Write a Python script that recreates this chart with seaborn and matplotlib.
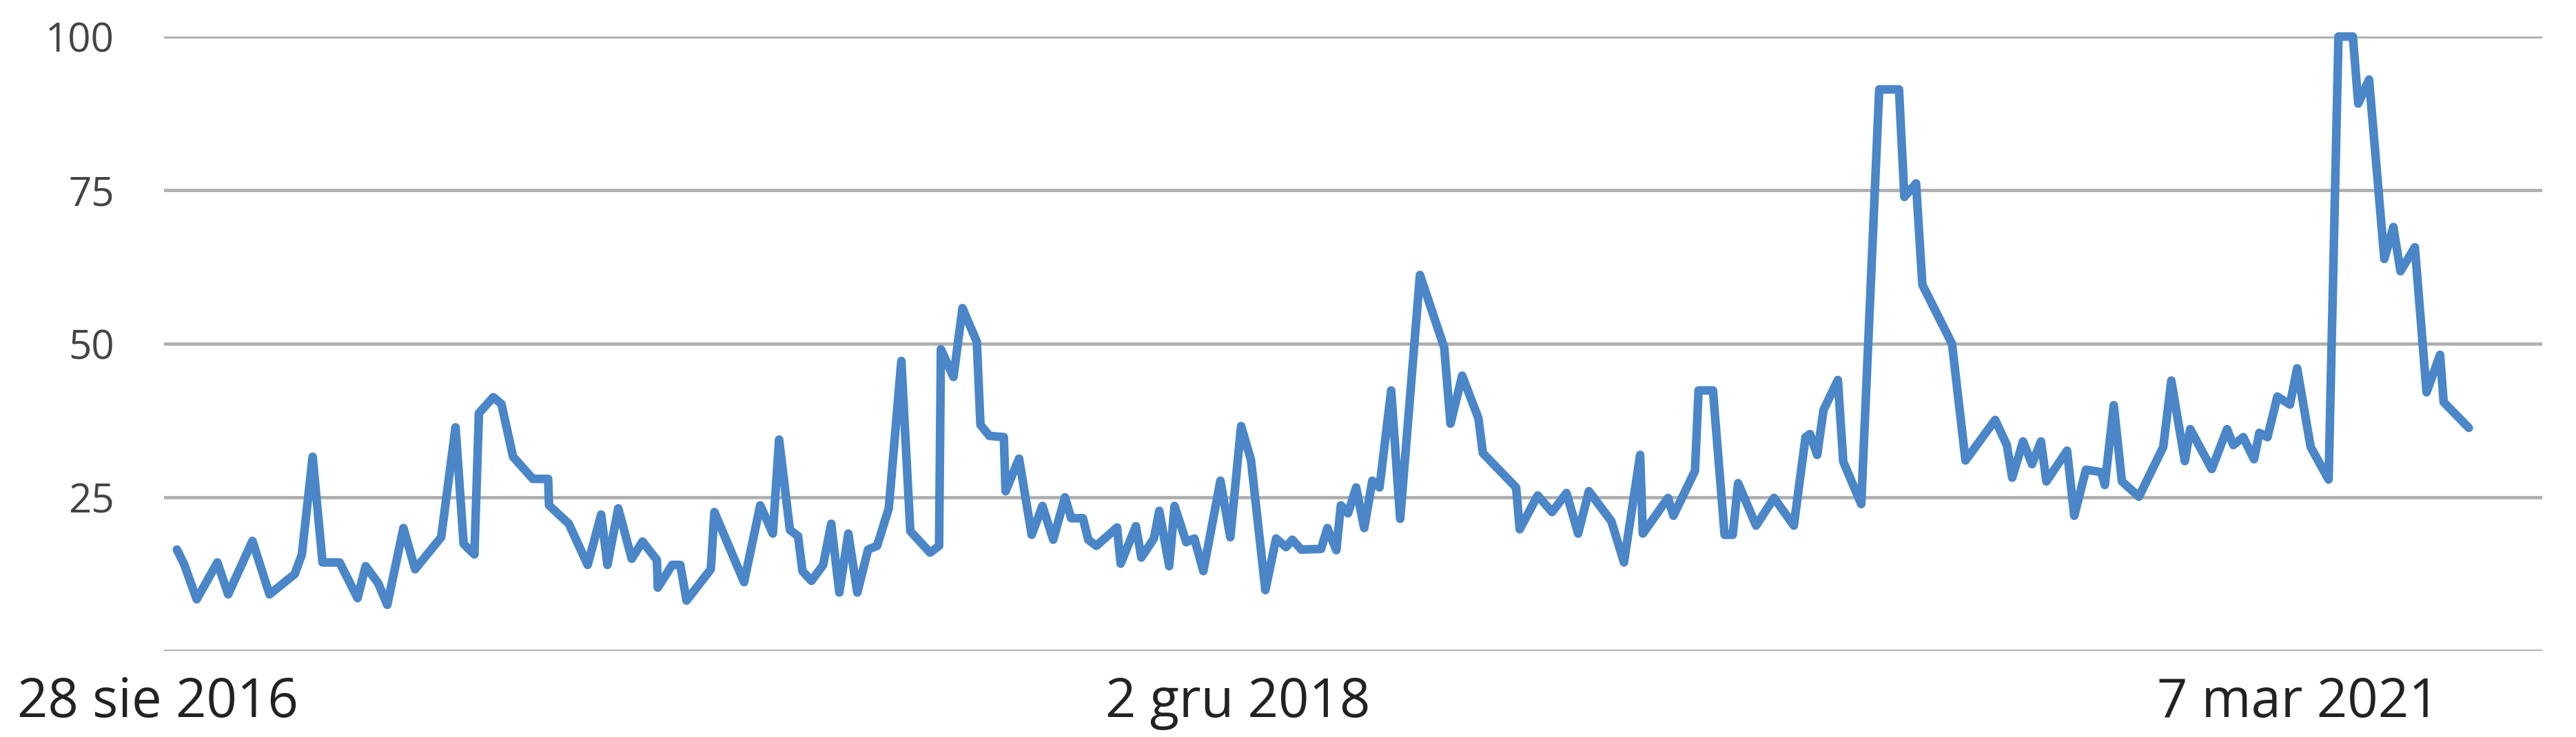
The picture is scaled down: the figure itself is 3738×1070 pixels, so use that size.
import pandas as pd
import matplotlib
matplotlib.use('Agg')
import matplotlib.pyplot as plt
import matplotlib.transforms as mtransforms
import seaborn as sns

# weeks since 28 Aug 2016 and interest values (0-100)
weeks = [0, 0.8, 2.2, 4.5, 5.7, 8.4, 10.3, 13.1, 13.9, 15.1,
         16.2, 18.1, 20.1, 21.0, 22.4, 23.4, 25.2, 26.5, 29.4, 31.0,
         31.9, 33.1, 33.6, 35.2, 36.1, 37.4, 39.6, 41.3, 41.4, 43.6,
         45.7, 47.2, 47.9, 49.1, 50.6, 51.8, 53.4, 53.5, 55.1, 56.0,
         56.7, 59.4, 59.8, 63.1, 64.9, 66.3, 67.0, 68.2, 69.1, 69.6,
         70.6, 71.9, 72.8, 73.7, 74.7, 75.7, 76.9, 77.9, 79.2, 80.6,
         81.6, 83.8, 84.8, 85.0, 86.4, 87.4, 89.0, 89.4, 90.4, 92.0,
         92.2, 93.7, 95.1, 96.3, 97.5, 98.8, 99.5, 100.8, 101.4, 102.3,
         104.6, 105.0, 106.7, 107.3, 108.7, 109.3, 110.4, 111.0, 112.3, 113.2,
         114.2, 116.1, 117.2, 118.4, 119.5, 121.1, 122.3, 123.4, 124.1, 125.1,
         127.3, 128.0, 129.0, 129.5, 130.3, 131.2, 132.1, 133.0, 133.8, 135.1,
         136.1, 138.3, 141.0, 141.7, 143.0, 144.8, 145.3, 149.0, 149.4, 151.4,
         153.0, 154.6, 155.9, 157.1, 159.6, 161.0, 162.8, 163.1, 165.9, 166.5,
         168.9, 169.3, 170.9, 172.2, 173.1, 173.7, 175.7, 177.7, 179.9, 181.2,
         181.7, 182.5, 183.2, 184.8, 185.4, 187.4, 189.4, 191.6, 192.2, 193.5,
         194.2, 197.5, 199.0, 202.3, 203.6, 204.2, 205.4, 206.4, 207.4, 208.0,
         210.3, 211.1, 212.4, 214.1, 214.5, 215.5, 216.4, 218.3, 221.0, 221.9,
         223.4, 224.0, 226.4, 228.1, 228.8, 229.9, 231.1, 231.7, 232.6, 233.7,
         235.1, 235.9, 237.4, 239.4, 240.5, 242.1, 242.7, 243.9, 245.6, 246.6,
         247.4, 249.0, 250.3, 251.8, 252.2, 255.0]

values = [16.5, 14.1, 8.4, 14.4, 9.2, 17.9, 9.2, 12.5, 15.7, 31.6,
          14.4, 14.4, 8.6, 13.8, 11.0, 7.5, 20.0, 13.3, 18.5, 36.4,
          17.4, 15.7, 38.7, 41.3, 40.2, 31.6, 28.0, 28.0, 23.7, 20.7,
          14.0, 22.2, 14.0, 23.2, 15.0, 17.8, 14.8, 10.3, 14.0, 14.0,
          8.2, 13.3, 22.6, 11.2, 23.7, 19.1, 34.4, 19.7, 18.7, 13.0,
          11.4, 14.0, 20.7, 9.5, 19.1, 9.5, 16.5, 17.1, 23.2, 47.2,
          19.5, 16.0, 17.1, 49.1, 44.6, 55.8, 50.3, 36.8, 35.0, 34.8,
          26.0, 31.3, 18.9, 23.6, 18.1, 25.0, 21.6, 21.6, 18.1, 17.1,
          20.1, 14.2, 20.3, 15.2, 18.3, 22.8, 13.8, 23.6, 17.7, 18.3,
          13.0, 27.7, 18.5, 36.6, 31.1, 9.9, 18.3, 16.9, 18.1, 16.5,
          16.6, 20.0, 16.4, 23.7, 22.4, 26.6, 20.0, 27.7, 26.6, 42.4,
          21.5, 61.2, 49.4, 37.0, 44.8, 37.9, 32.2, 26.6, 19.8, 25.3,
          22.6, 25.7, 19.1, 26.0, 21.1, 14.4, 31.9, 19.1, 24.9, 22.0,
          29.3, 42.4, 42.4, 18.9, 18.9, 27.3, 20.4, 24.9, 20.4, 34.8,
          35.3, 31.9, 39.2, 44.1, 30.8, 23.9, 91.4, 91.4, 73.9, 76.1,
          59.6, 50.0, 31.0, 37.6, 33.5, 28.2, 34.1, 30.4, 34.1, 27.6,
          32.6, 22.0, 29.5, 29.1, 27.0, 40.0, 27.6, 25.1, 33.2, 44.0,
          30.9, 36.1, 29.6, 36.1, 33.5, 34.8, 31.2, 35.5, 34.8, 41.4,
          40.1, 46.0, 33.2, 27.9, 100, 100, 89.1, 93.0, 63.8, 69.0,
          61.8, 65.7, 42.1, 48.2, 40.5, 36.3]

start = pd.Timestamp('2016-08-28')
tick_dates = ['2016-08-28', '2018-12-02', '2021-03-07']
tick_labels = ['28 sie 2016', '2 gru 2018', '7 mar 2021']
y_ticks = [25, 50, 75, 100]

df = pd.DataFrame({'week': weeks, 'value': values})
df['date'] = start + pd.to_timedelta(df['week'] * 7, unit='D')

sns.set_style('white')
plt.rcParams['font.family'] = ['Open Sans', 'DejaVu Sans']

fig = plt.figure(figsize=(37.38, 10.70), dpi=100)
ax = fig.add_axes([0.0637, 0.1168, 0.9233, 0.8336])

grid_color = '#aeaeae'
for y in [0] + y_ticks:
    ax.axhline(y, color=grid_color, lw=3.4, zorder=1)

sns.lineplot(data=df, x='date', y='value', ax=ax, color='#4a86c8', zorder=3)
for ln in ax.lines:
    if ln.get_zorder() == 3:
        ln.set_linewidth(9)
        ln.set_solid_joinstyle('round')
        ln.set_solid_capstyle('round')
        ln.set_clip_on(False)

ax.set_ylim(0, 100)
ax.set_xlim(start - pd.Timedelta(days=10), start + pd.Timedelta(weeks=263.2))

ax.set_yticks(y_ticks)
ax.set_yticklabels([str(t) for t in y_ticks], fontsize=42, color='#444444')
ax.set_xticks(pd.to_datetime(tick_dates))
ax.set_xticklabels(tick_labels, fontsize=56, color='#222222')
ax.tick_params(axis='y', length=0, pad=52)
ax.tick_params(axis='x', length=0, pad=26)

# first label sits a bit left of its date
first = ax.get_xticklabels()[0]
first.set_transform(first.get_transform() +
                    mtransforms.ScaledTranslation(-0.28, 0, fig.dpi_scale_trans))

ax.set_xlabel('')
ax.set_ylabel('')
for s in ax.spines.values():
    s.set_visible(False)

fig.savefig('out.png', dpi=100, facecolor='white')
